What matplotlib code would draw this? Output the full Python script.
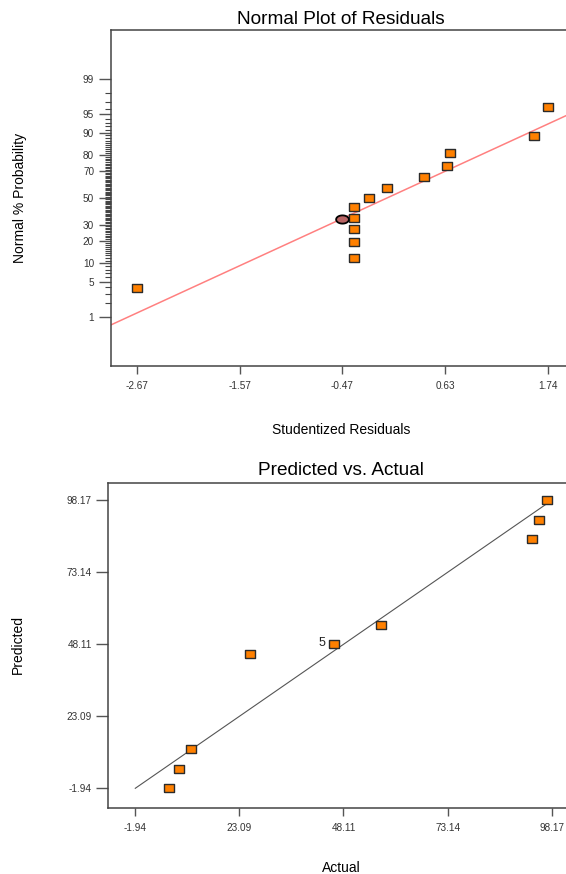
import numpy as np
import matplotlib
matplotlib.use("Agg")
import matplotlib.pyplot as plt
from statistics import NormalDist

plt.rcParams['font.family'] = ['Liberation Sans', 'DejaVu Sans']

# normal plot of residuals
resid = [-2.673, -0.34, -0.34, -0.34, -0.34, -0.34, -0.183, 0.010, 0.410, 0.650, 0.686, 1.587, 1.736]
prob = [3.9, 11.9, 19.6, 27.2, 35.0, 43.0, 50.2, 57.8, 65.8, 73.5, 81.1, 88.7, 96.2]
sel_resid = -0.475
sel_prob = 34.0
ref_center = 0.01
ref_scale = 1.19
major_probs = [1, 5, 10, 20, 30, 50, 70, 80, 90, 95, 99]

# predicted vs actual
actual = [6.24, 8.57, 11.53, 25.57, 45.76, 57.14, 93.44, 95.20, 96.98]
predicted = [-1.942, 4.77, 11.63, 44.78, 48.17, 54.98, 84.70, 91.41, 98.17]
point_ids = ['', '', '', '', '5', '', '', '', '']

nd = NormalDist()
def z(p):
    return np.array([nd.inv_cdf(v / 100.0) for v in np.atleast_1d(p)])

orange = '#FF8000'
edge = '#2b2b2b'
rect = [(-1.3, -1), (1.3, -1), (1.3, 1), (-1.3, 1), (-1.3, -1)]
t = np.linspace(0, 2 * np.pi, 40)
ellipse = list(zip(1.55 * np.cos(t), np.sin(t)))
tick_col = '#555555'
lab_size = 7.2

fig = plt.figure(figsize=(5.66, 8.74), dpi=100)

# ---- top
ax1 = fig.add_axes([110.7 / 566, 1 - 366 / 874, (571 - 110.7) / 566, 336 / 874])
xl = (-2.952, 1.983)
xs = np.array(xl)
ax1.plot(xs, (xs - ref_center) / ref_scale, color='#FF8080', lw=1.1, zorder=2)
ax1.plot(resid, z(prob), linestyle='none', marker=rect, markersize=6.7,
         markerfacecolor=orange, markeredgecolor=edge, markeredgewidth=1.0, zorder=3)
ax1.plot([sel_resid], z(sel_prob), linestyle='none', marker=ellipse, markersize=9.2,
         markerfacecolor='#B86464', markeredgecolor='black', markeredgewidth=1.3, zorder=4)
ax1.set_xlim(xl)
ax1.set_ylim(-3.292, 3.292)
all_r = resid + [sel_resid]
xt = np.linspace(min(all_r), max(all_r), 5)
ax1.set_xticks(xt)
ax1.set_xticklabels(['%.2f' % v for v in xt])
ax1.set_yticks(z(major_probs))
ax1.set_yticklabels([str(p) for p in major_probs])
minor = [p for p in range(1, 100) if p not in major_probs]
ax1.set_yticks(z(minor), minor=True)
ax1.tick_params(axis='x', direction='out', length=6, width=1, color=tick_col,
                labelsize=lab_size, labelcolor='#333333', pad=5)
ax1.tick_params(axis='y', which='major', direction='out', length=8.9, width=1,
                color=tick_col, labelsize=lab_size, labelcolor='#333333', pad=3)
ax1.tick_params(axis='y', which='minor', direction='out', length=4.1, width=0.8, color='#444444')
for s in ax1.spines.values():
    s.set_color('#444444')
    s.set_linewidth(1.1)
fig.text(341 / 566, 1 - 19 / 874, 'Normal Plot of Residuals', ha='center', va='center', fontsize=13.7)
fig.text(341 / 566, 1 - 430 / 874, 'Studentized Residuals', ha='center', va='center', fontsize=10)
fig.text(20 / 566, 1 - 198 / 874, 'Normal % Probability', ha='center', va='center',
         rotation=90, fontsize=10)

# ---- bottom
ax2 = fig.add_axes([108.3 / 566, 1 - 807.7 / 874, (575 - 108.3) / 566, 325 / 874])
lo = min(actual + predicted)
hi = max(actual + predicted)
ax2.plot([lo, hi], [lo, hi], color='#555555', lw=0.8, zorder=2)
ax2.plot(actual, predicted, linestyle='none', marker=rect, markersize=6.7,
         markerfacecolor=orange, markeredgecolor=edge, markeredgewidth=1.0, zorder=3)
for a, p, lab in zip(actual, predicted, point_ids):
    if lab:
        ax2.annotate(lab, (a, p), xytext=(-6, 1), textcoords='offset points',
                     ha='right', va='center', fontsize=9, color='#222222')
ax2.set_xlim(-8.43, 103.77)
ax2.set_ylim(-8.69, 104.3)
tk = np.linspace(lo, hi, 5)
ax2.set_xticks(tk)
ax2.set_xticklabels(['%.2f' % v for v in tk])
ax2.set_yticks(tk)
ax2.set_yticklabels(['%.2f' % v for v in tk])
ax2.tick_params(axis='x', direction='out', length=6, width=1, color=tick_col,
                labelsize=lab_size, labelcolor='#333333', pad=5)
ax2.tick_params(axis='y', direction='out', length=8.9, width=1, color=tick_col,
                labelsize=lab_size, labelcolor='#333333', pad=3)
for s in ax2.spines.values():
    s.set_color('#444444')
    s.set_linewidth(1.1)
fig.text(341 / 566, 1 - 470.5 / 874, 'Predicted vs. Actual', ha='center', va='center', fontsize=13.7)
fig.text(341 / 566, 1 - 868 / 874, 'Actual', ha='center', va='center', fontsize=10)
fig.text(18 / 566, 1 - 645 / 874, 'Predicted', ha='center', va='center', rotation=90, fontsize=10)

fig.savefig('out.png', dpi=100)
